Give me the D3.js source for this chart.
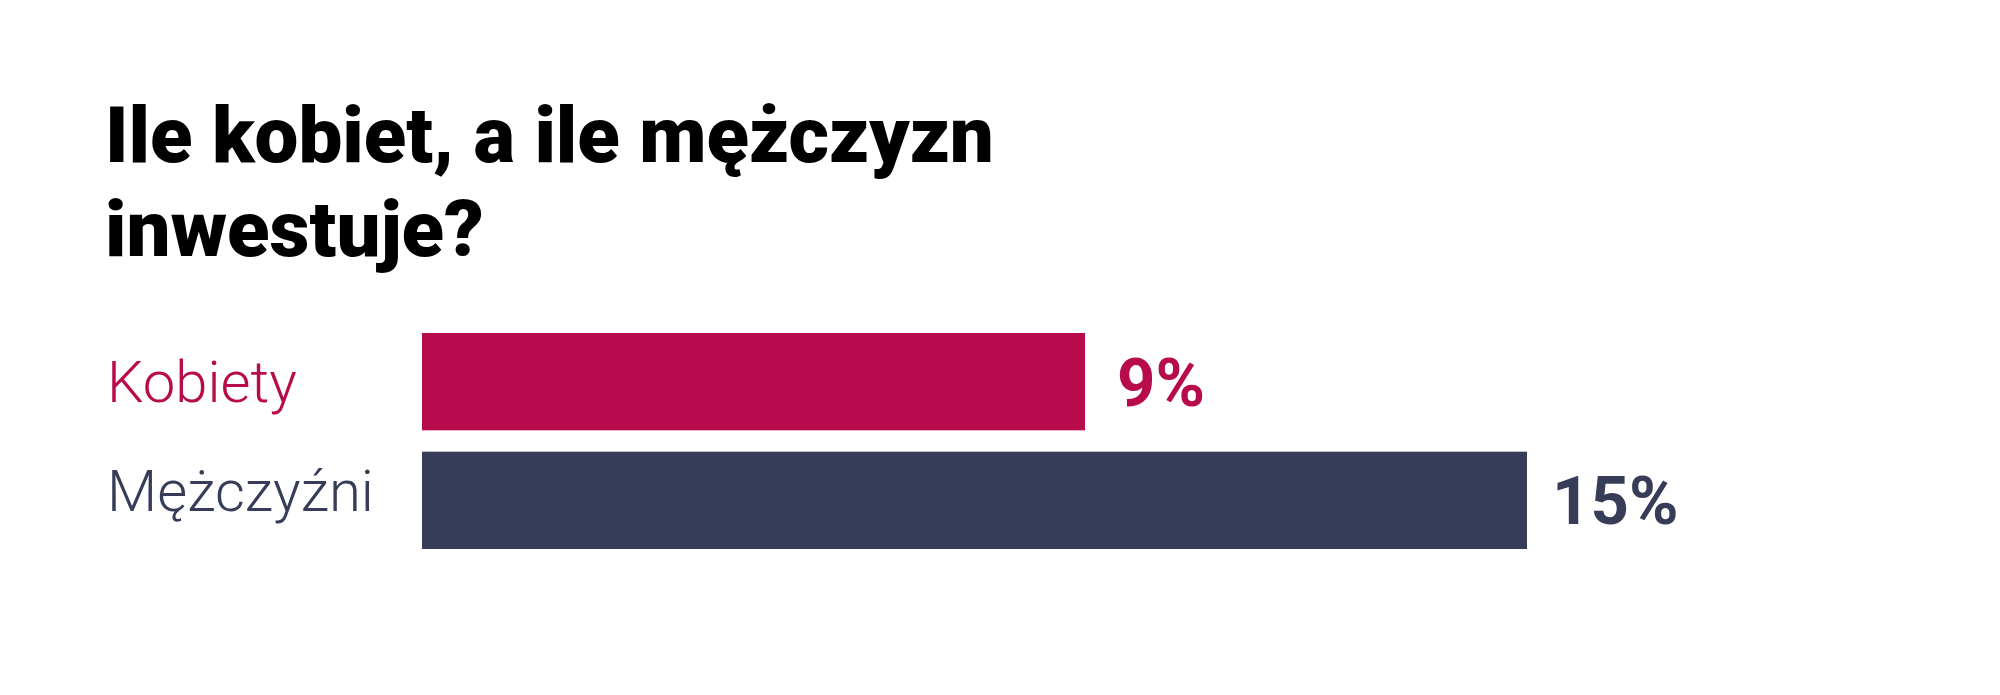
<!DOCTYPE html>
<html><head><meta charset="utf-8">
<script src="https://cdn.jsdelivr.net/npm/d3@7"></script>
<style>
html,body{margin:0;padding:0;background:#fff;}
svg{display:block;}
</style></head>
<body>
<script>
const titleLines = ["Ile kobiet, a ile mężczyzn", "inwestuje?"];
const categories = ["Kobiety", "Mężczyźni"];
const values = [9, 15];
const valueLabels = ["9%", "15%"];
const colors = ["#b80b4c", "#373d58"];

const W = 2000, H = 695;
const svg = d3.select("body").append("svg").attr("width", W).attr("height", H);

svg.append("g").selectAll("text").data(titleLines).join("text")
  .attr("x", 105).attr("y", (d, i) => 162 + i * 94)
  .attr("font-family", "Roboto, sans-serif").attr("font-weight", 900)
  .attr("font-size", 78).attr("fill", "#000").text(d => d);

const x = d3.scaleLinear().domain([0, 15]).range([422, 1527]);
const y = d3.scaleBand().domain(categories).range([333, 549]).paddingInner(0.18).paddingOuter(0);

svg.append("g").selectAll("rect").data(categories).join("rect")
  .attr("x", x(0)).attr("y", d => y(d))
  .attr("width", (d, i) => x(values[i]) - x(0)).attr("height", y.bandwidth())
  .attr("fill", (d, i) => colors[i]);

const labelDy = [20, 11];
svg.append("g").selectAll("text").data(categories).join("text")
  .attr("x", 107).attr("y", (d, i) => y(d) + y.bandwidth() / 2 + labelDy[i])
  .attr("font-family", "Roboto, sans-serif").attr("font-weight", 300)
  .attr("font-size", 58).attr("fill", (d, i) => colors[i]).text(d => d);

const valueDx = [32, 25];
svg.append("g").selectAll("text").data(categories).join("text")
  .attr("x", (d, i) => x(values[i]) + valueDx[i]).attr("y", d => y(d) + y.bandwidth() / 2 + 24)
  .attr("font-family", "Roboto, sans-serif").attr("font-weight", 700)
  .attr("font-size", 67).attr("fill", (d, i) => colors[i]).text((d, i) => valueLabels[i]);
</script>
</body></html>
